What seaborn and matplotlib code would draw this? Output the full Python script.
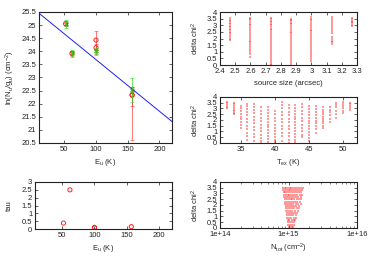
import numpy as np
import pandas as pd
import matplotlib
matplotlib.use("Agg")
import matplotlib.pyplot as plt
from matplotlib.ticker import FormatStrFormatter, FuncFormatter, MultipleLocator, LogLocator
import seaborn as sns

# rotation diagram
eu_green = [52, 62, 100, 157]
lnn_green = [25.05, 23.92, 24.0, 22.52]
err_green = [0.15, 0.13, 0.13, 0.46]
eu_red = [52, 62, 100, 100, 157, 157]
lnn_red = [25.05, 23.92, 24.43, 24.14, 22.33, 22.33]
err_red_lo = [0.1, 0.1, 0.37, 0.25, 0.43, 1.73]
err_red_hi = [0.1, 0.1, 0.35, 0.12, 0.3, 0.3]
fit_intercept = 25.65
fit_trot = 50.8

# optical depth
eu_tau = [52, 62, 100, 100, 157]
tau = [0.38, 2.5, 0.1, 0.08, 0.15]

# source size grid
sizes = [2.467, 2.6, 2.733, 2.867, 3.0, 3.133, 3.267]
size_chi2 = [
    [3.52, 3.42, 3.31, 3.2, 3.1, 2.98, 2.87, 2.75, 2.62, 2.5, 2.38, 2.25, 2.12, 2.0, 1.9],
    [3.58, 3.48, 3.37, 3.25, 3.12, 3.0, 2.86, 2.72, 2.58, 2.44, 2.3, 2.15, 2.0, 1.85, 1.7, 1.55, 1.4, 1.25, 1.1, 0.95, 0.8, 0.62],
    [3.55, 3.45, 3.35, 3.24, 3.12, 3.0, 2.88, 2.75, 2.62, 2.48, 2.34, 2.2, 2.05, 1.9, 1.75, 1.6, 1.45, 1.3, 1.15, 1.0, 0.85, 0.7, 0.55, 0.4, 0.25, 0.1, 0.02],
    [3.5, 3.4, 3.3, 3.18, 3.06, 2.94, 2.8, 2.66, 2.52, 2.38, 2.24, 2.1, 1.95, 1.8, 1.65, 1.5, 1.35, 1.2, 1.05, 0.9, 0.75, 0.6, 0.45, 0.3, 0.15, 0.03],
    [3.6, 3.48, 3.36, 3.24, 3.1, 2.96, 2.82, 2.68, 2.54, 2.4, 2.25, 2.1, 1.95, 1.8, 1.65, 1.5, 1.35, 1.2, 1.05, 0.9, 0.75, 0.6, 0.45, 0.32],
    [3.6, 3.48, 3.35, 3.2, 3.05, 2.9, 2.75, 2.6, 2.45, 2.12, 1.98, 1.84, 1.7, 1.56],
    [3.55, 3.45, 3.35, 3.25, 3.15, 3.05, 2.95],
]

# excitation temperature grid
tex = [33, 34, 35, 36, 37, 38, 39, 40, 41, 42, 43, 44, 45, 46, 47, 48, 49, 50, 51]
tex_chi2 = [
    [3.55, 3.45, 3.3, 3.15, 3.0],
    [3.5, 3.35, 3.2, 3.05, 2.9, 2.75, 2.6, 2.5],
    [3.2, 3.0, 2.8, 2.55, 2.3, 2.05, 1.8, 1.55, 1.3],
    [3.4, 3.2, 2.95, 2.7, 2.4, 2.1, 1.8, 1.5, 1.2, 0.9, 0.6, 0.3],
    [3.4, 3.15, 2.9, 2.6, 2.3, 2.0, 1.7, 1.4, 1.1, 0.8, 0.5, 0.2],
    [3.1, 2.8, 2.5, 2.2, 1.9, 1.6, 1.3, 1.0, 0.7, 0.45, 0.2, 0.02],
    [3.1, 2.85, 2.6, 2.35, 2.1, 1.85, 1.6, 1.35, 1.1, 0.85, 0.6, 0.35, 0.1],
    [2.8, 2.5, 2.2, 1.9, 1.6, 1.3, 1.0, 0.75, 0.5, 0.25, 0.05],
    [3.6, 3.3, 3.0, 2.7, 2.4, 2.1, 1.8, 1.5, 1.2, 0.9, 0.6, 0.2],
    [3.3, 3.0, 2.7, 2.4, 2.1, 1.8, 1.5, 1.2, 0.9, 0.6, 0.3, 0.0],
    [3.3, 3.05, 2.8, 2.55, 2.3, 2.05, 1.8, 1.55, 1.3, 1.05, 0.8, 0.55, 0.3, 0.05],
    [3.4, 3.1, 2.8, 2.5, 2.2, 1.9, 1.6, 1.3, 1.0, 0.7, 0.5],
    [3.2, 2.95, 2.7, 2.45, 2.2, 1.95, 1.7, 1.45, 1.2, 0.95, 0.7, 0.45, 0.2],
    [3.2, 2.95, 2.7, 2.45, 2.2, 1.95, 1.7, 1.45, 1.2, 0.9],
    [3.1, 2.9, 2.7, 2.5, 2.3, 2.1, 1.9, 1.7, 1.5, 1.3],
    [3.1, 2.9, 2.7, 2.4, 2.1, 1.8],
    [3.5, 3.3, 3.1, 2.8, 2.5, 2.2],
    [3.6, 3.4, 3.2, 3.0, 2.8, 2.6],
    [3.5, 3.35, 3.2, 3.05, 2.9],
]

# column density grid (N in units of 1e15 cm^-2, one row per delta chi2 level)
ntot_chi2 = [3.5, 3.3, 3.1, 2.9, 2.7, 2.5, 2.3, 2.1, 1.9, 1.7, 1.5, 1.3, 1.1, 0.9, 0.7, 0.5, 0.3, 0.1]
ntot_rows = [
    [0.83, 0.88, 0.93, 0.98, 1.04, 1.1, 1.17, 1.25, 1.33, 1.42, 1.52, 1.62],
    [0.84, 0.89, 0.95, 1.0, 1.06, 1.13, 1.2, 1.28, 1.37, 1.47, 1.58],
    [0.85, 0.9, 0.96, 1.02, 1.08, 1.15, 1.23, 1.31, 1.4, 1.5],
    [0.86, 0.91, 0.97, 1.03, 1.1, 1.17, 1.25, 1.34, 1.45, 1.55],
    [0.87, 0.92, 0.98, 1.05, 1.12, 1.2, 1.28, 1.38, 1.5],
    [0.88, 0.94, 1.0, 1.07, 1.14, 1.22, 1.31, 1.42, 1.53],
    [0.89, 0.95, 1.01, 1.08, 1.16, 1.25, 1.35, 1.47],
    [0.9, 0.96, 1.03, 1.1, 1.18, 1.27, 1.38, 1.5],
    [0.91, 0.97, 1.04, 1.12, 1.2, 1.3, 1.42],
    [0.92, 0.98, 1.05, 1.13, 1.22, 1.33, 1.4],
    [0.93, 0.99, 1.06, 1.14, 1.24, 1.36],
    [0.94, 1.0, 1.07, 1.16, 1.26, 1.35],
    [0.95, 1.01, 1.08, 1.17, 1.28],
    [0.96, 1.02, 1.1, 1.19, 1.27],
    [0.97, 1.03, 1.11, 1.2, 1.26],
    [0.98, 1.04, 1.12, 1.21],
    [0.99, 1.05, 1.13, 1.2],
    [1.0, 1.06, 1.14, 1.18],
]


def grid_frame(xs, rows, xname):
    recs = [(x, c) for x, r in zip(xs, rows) for c in r]
    return pd.DataFrame(recs, columns=[xname, "chi2"])


sns.set_theme(style="ticks")
plt.rcParams["font.family"] = ["Liberation Sans", "DejaVu Sans"]
plt.rcParams["font.size"] = 5
plt.rcParams["axes.labelsize"] = 5.5
plt.rcParams["mathtext.default"] = "regular"

fig = plt.figure(figsize=(3.7, 2.59), dpi=100)
ax1 = fig.add_axes([0.1054, 0.4479, 0.3595, 0.5058])
ax2 = fig.add_axes([0.5946, 0.749, 0.3703, 0.2046])
ax3 = fig.add_axes([0.5946, 0.4479, 0.3703, 0.1776])
ax4 = fig.add_axes([0.0946, 0.1158, 0.3703, 0.1815])
ax5 = fig.add_axes([0.5946, 0.1197, 0.3703, 0.1776])


def style(ax):
    ax.tick_params(direction="in", top=True, right=True, length=2.5, width=0.5,
                   labelsize=5.5, pad=2, colors="#222222", which="major")
    ax.tick_params(direction="in", top=True, right=True, length=1.3, width=0.4, which="minor")
    for s in ax.spines.values():
        s.set_linewidth(0.8)
        s.set_color("#222222")


red = "#ff2020"
green = "#22dd22"

# rotation diagram
efit = np.array([10, 220])
sns.lineplot(x=efit, y=fit_intercept - efit / fit_trot, ax=ax1, color="#2020ee", lw=0.7)
ax1.errorbar(eu_red, lnn_red, yerr=[err_red_lo, err_red_hi], fmt="none", ecolor=red,
             alpha=0.6, elinewidth=0.7, capsize=1.5, capthick=0.6)
ax1.errorbar(eu_green, lnn_green, yerr=err_green, fmt="none", ecolor=green,
             alpha=0.7, elinewidth=0.7, capsize=1.5, capthick=0.6)
sns.scatterplot(x=eu_green, y=lnn_green, ax=ax1, marker="X", color=green, s=13, linewidth=0)
sns.scatterplot(x=eu_red, y=lnn_red, ax=ax1, marker="o", facecolor="none",
                edgecolor=red, s=9, linewidth=0.7)
ax1.set_xlim(10, 220)
ax1.set_ylim(20.5, 25.5)
ax1.xaxis.set_major_locator(MultipleLocator(50))
ax1.yaxis.set_major_locator(MultipleLocator(0.5))
ax1.yaxis.set_major_formatter(FormatStrFormatter("%g"))
ax1.set_xlabel("E$_u$ (K)", labelpad=3)
ax1.set_ylabel("ln(N$_u$/g$_u$) (cm$^{-2}$)", labelpad=3)
style(ax1)

# tau
sns.scatterplot(x=eu_tau, y=tau, ax=ax4, marker="o", facecolor="none",
                edgecolor=red, s=9, linewidth=0.7)
ax4.set_xlim(8, 220)
ax4.set_ylim(0, 3)
ax4.xaxis.set_major_locator(MultipleLocator(50))
ax4.yaxis.set_major_locator(MultipleLocator(0.5))
ax4.yaxis.set_major_formatter(FormatStrFormatter("%g"))
ax4.set_xlabel("E$_u$ (K)", labelpad=3)
ax4.set_ylabel("tau", labelpad=6)
style(ax4)

pt = dict(marker="s", color=red, alpha=0.45, s=2.5, linewidth=0)

# source size
d = grid_frame(sizes, size_chi2, "size")
sns.scatterplot(data=d, x="size", y="chi2", ax=ax2, **pt)
ax2.set_xlim(2.4, 3.3)
ax2.set_ylim(0, 4)
ax2.xaxis.set_major_locator(MultipleLocator(0.1))
ax2.xaxis.set_major_formatter(FormatStrFormatter("%g"))
ax2.yaxis.set_major_locator(MultipleLocator(0.5))
ax2.yaxis.set_major_formatter(FormatStrFormatter("%g"))
ax2.set_xlabel("source size (arcsec)", labelpad=4)
ax2.set_ylabel("delta chi$^2$", labelpad=4)
style(ax2)

# Tex
d = grid_frame(tex, tex_chi2, "tex")
sns.scatterplot(data=d, x="tex", y="chi2", ax=ax3, **pt)
ax3.set_xlim(32, 52)
ax3.set_ylim(0, 4)
ax3.xaxis.set_major_locator(MultipleLocator(5))
ax3.yaxis.set_major_locator(MultipleLocator(0.5))
ax3.yaxis.set_major_formatter(FormatStrFormatter("%g"))
ax3.set_xlabel("T$_{ex}$ (K)", labelpad=3)
ax3.set_ylabel("delta chi$^2$", labelpad=4)
style(ax3)

# Ntot
d = grid_frame(ntot_chi2, ntot_rows, "chi2")
d.columns = ["chi2", "n"]
d["n"] = d["n"] * 1e15
sns.scatterplot(data=d, x="n", y="chi2", ax=ax5, **pt)
ax5.set_xscale("log")
ax5.set_xlim(1e14, 1e16)
ax5.set_ylim(0, 4)
ax5.xaxis.set_major_formatter(FuncFormatter(lambda v, p: "%.0e" % v))
ax5.xaxis.set_minor_locator(LogLocator(subs=np.arange(2, 10)))
ax5.yaxis.set_major_locator(MultipleLocator(0.5))
ax5.yaxis.set_major_formatter(FormatStrFormatter("%g"))
ax5.set_xlabel("N$_{tot}$ (cm$^{-2}$)", labelpad=3)
ax5.set_ylabel("delta chi$^2$", labelpad=4)
style(ax5)

fig.savefig("out.png", dpi=100)
